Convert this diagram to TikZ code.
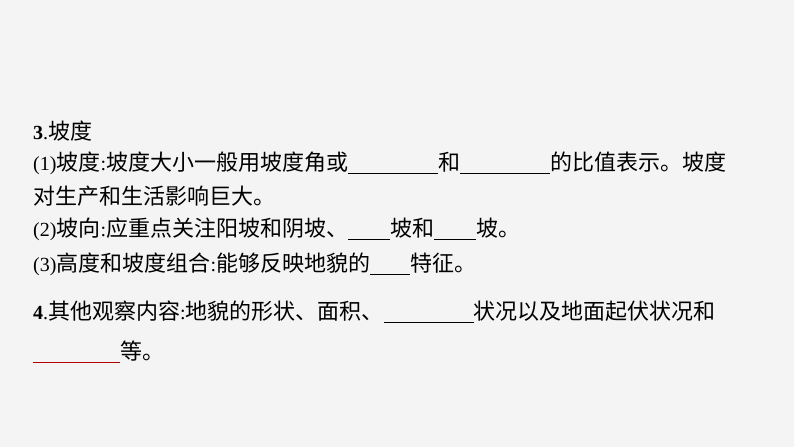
\documentclass[tikz,border=0pt]{standalone}
\usepackage{fontspec}
\setmainfont{Liberation Serif}
\newfontfamily\cjk[Scale=1.1]{Noto Sans CJK SC}
\newcommand{\zh}[1]{{\cjk #1}}
\newcommand{\blank}[1]{\rule[-4pt]{#1pt}{0.9pt}}
\newcommand{\redblank}[1]{\textcolor{red!70!black}{\rule[-4pt]{#1pt}{0.9pt}}}
\begin{document}
\begin{tikzpicture}[x=1pt,y=-1pt,
    line/.style={anchor=west,inner sep=0pt,font=\fontsize{20}{24}\selectfont}]
    \fill[gray!9] (0,0) rectangle (794,447);
    \useasboundingbox (0,0) rectangle (794,447);

    \node[line] at (33,131) (t1) {\textbf{3}.\zh{坡度}};
    \node[line] at (33,163) (t2) {(1)\zh{坡度}:\zh{坡度大小一般用坡度角或}\blank{90}\zh{和}\blank{90}\zh{的比值表示。坡度}};
    \node[line] at (33,196) (t3) {\zh{对生产和生活影响巨大。}};
    \node[line] at (33,229) (t4) {(2)\zh{坡向}:\zh{应重点关注阳坡和阴坡、}\blank{42}\zh{坡和}\blank{42}\zh{坡。}};
    \node[line] at (33,264) (t5) {(3)\zh{高度和坡度组合}:\zh{能够反映地貌的}\blank{40}\zh{特征。}};
    \node[line] at (33,312) (t6) {\textbf{4}.\zh{其他观察内容}:\zh{地貌的形状、面积、}\blank{90}\zh{状况以及地面起伏状况和}};
    \node[line] at (33,352) (t7) {\redblank{87}\zh{等。}};
\end{tikzpicture}
\end{document}
